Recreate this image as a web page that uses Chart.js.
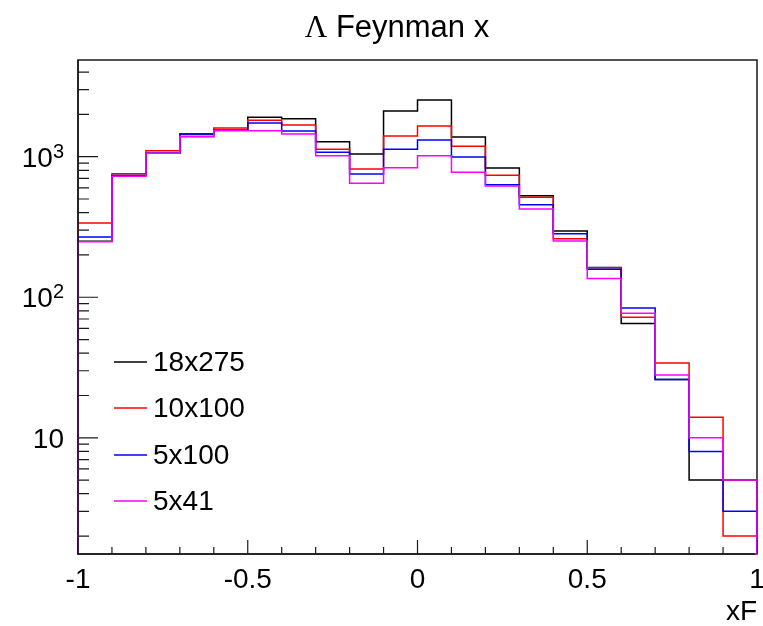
<!DOCTYPE html>
<html>
<head>
<meta charset="utf-8">
<script src="https://cdn.jsdelivr.net/npm/chart.js@4.4.0/dist/chart.umd.min.js"></script>
<style>
  body { margin: 0; background: #fff; }
</style>
</head>
<body>
<canvas id="xfChart" width="763" height="626"></canvas>
<script>
// 20 bins of width 0.1 in xF
const binEdges = [-1, -0.9, -0.8, -0.7, -0.6, -0.5, -0.4, -0.3, -0.2, -0.1, 0, 0.1, 0.2, 0.3, 0.4, 0.5, 0.6, 0.7, 0.8, 0.9, 1];

const counts18x275 = [250, 735, 1056, 1450, 1540, 1905, 1864, 1278, 1045, 2113, 2535, 1381, 831, 527, 296, 163, 65, 26, 5, 5];
const counts10x100 = [337, 755, 1104, 1388, 1600, 1815, 1681, 1128, 817, 1403, 1653, 1186, 737, 515, 261, 162, 72, 34, 14, 2];
const counts5x100  = [268, 735, 1056, 1450, 1540, 1737, 1524, 1075, 753, 1128, 1315, 995, 632, 455, 283, 158, 84, 26, 8, 3];
const counts5x41   = [248, 725, 1056, 1400, 1530, 1530, 1450, 1017, 646, 835, 1017, 774, 618, 424, 251, 136, 77, 28, 10, 5];

const seriesNames = ['18x275', '10x100', '5x100', '5x41'];
const seriesColors = ['#000000', '#ff0000', '#0000ff', '#ff00ff'];

const xMajorTicks = [-1, -0.5, 0, 0.5, 1];
const xTickLabels = ['-1', '-0.5', '0', '0.5', '1'];
const yMajorTicks = [10, 100, 1000];
const yTickExp = ['', '2', '3'];

const yMin = 1.49;
const yMax = 4875;
const font = '"Liberation Sans", Arial, sans-serif';

// step outline: starts and ends on the axis floor like a ROOT hist
function histPoints(values) {
    const pts = [{x: binEdges[0], y: 1}];
    for (let i = 0; i < values.length; i++) {
        pts.push({x: binEdges[i], y: values[i]});
    }
    pts.push({x: binEdges[binEdges.length - 1], y: 1});
    return pts;
}

function minorYTicks() {
    const ticks = [];
    for (let dec = 1; dec <= 1000; dec *= 10) {
        for (let m = 2; m <= 9; m++) {
            const v = m * dec;
            if (v > yMin && v < yMax) ticks.push(v);
        }
    }
    return ticks;
}

const allCounts = [counts18x275, counts10x100, counts5x100, counts5x41];
const datasets = allCounts.map((values, i) => ({
    label: seriesNames[i],
    data: histPoints(values),
    borderColor: seriesColors[i],
    borderWidth: 1.5,
    pointRadius: 0,
    fill: false,
    stepped: true,
    tension: 0,
    order: allCounts.length - i   // later series drawn on top
}));

const frame = {
    id: 'rootFrame',
    beforeDatasetsDraw(chart) {
        const c = chart.ctx;
        const a = chart.chartArea;
        const xs = chart.scales.x;
        const ys = chart.scales.y;
        c.save();
        c.strokeStyle = '#1a1a1a';
        c.lineWidth = 1.5;
        c.strokeRect(a.left, a.top, a.right - a.left, a.bottom - a.top);

        c.lineWidth = 1.2;
        c.beginPath();
        // x ticks, every 0.1 with long ones at 0.5
        for (let i = 0; i < binEdges.length; i++) {
            const px = xs.getPixelForValue(binEdges[i]);
            const len = xMajorTicks.includes(binEdges[i]) ? 14 : 7;
            c.moveTo(px, a.bottom);
            c.lineTo(px, a.bottom - len);
        }
        for (const v of minorYTicks()) {
            const py = ys.getPixelForValue(v);
            c.moveTo(a.left, py);
            c.lineTo(a.left + 11, py);
        }
        for (const v of yMajorTicks) {
            const py = ys.getPixelForValue(v);
            c.moveTo(a.left, py);
            c.lineTo(a.left + 20, py);
        }
        c.stroke();
        c.restore();
    },
    afterDraw(chart) {
        const c = chart.ctx;
        const a = chart.chartArea;
        const xs = chart.scales.x;
        const ys = chart.scales.y;
        c.save();

        // y axis line goes back over the hist edges
        c.strokeStyle = '#1a1a1a';
        c.lineWidth = 1.5;
        c.beginPath();
        c.moveTo(a.left, a.top);
        c.lineTo(a.left, a.bottom);
        c.lineTo(a.right - 2, a.bottom);
        c.stroke();

        c.fillStyle = '#000';

        // x tick labels
        c.font = '28px ' + font;
        c.textAlign = 'center';
        c.textBaseline = 'alphabetic';
        xMajorTicks.forEach((v, i) => {
            c.fillText(xTickLabels[i], xs.getPixelForValue(v), 588);
        });

        // axis title
        c.textAlign = 'right';
        c.fillText('xF', a.right, 620);

        // y tick labels with raised exponent
        yMajorTicks.forEach((v, i) => {
            const py = ys.getPixelForValue(v);
            const right = 64;
            c.textAlign = 'right';
            if (yTickExp[i]) {
                c.font = '20px ' + font;
                const ew = c.measureText(yTickExp[i]).width;
                c.fillText(yTickExp[i], right, py + 1);
                c.font = '28px ' + font;
                c.fillText('10', right - ew, py + 10);
            } else {
                c.font = '28px ' + font;
                c.fillText('10', right, py + 10);
            }
        });

        // title
        c.textAlign = 'left';
        c.font = '31px "Liberation Serif", serif';
        const lw = c.measureText('\u039B').width;
        c.font = '31px ' + font;
        const tw = c.measureText(' Feynman x').width;
        const tx = 397 - (lw + tw) / 2;
        c.font = '31px "Liberation Serif", serif';
        c.fillText('\u039B', tx, 37);
        c.font = '31px ' + font;
        c.fillText(' Feynman x', tx + lw, 37);

        // legend
        const rows = [362, 408, 455, 501];
        c.font = '28px ' + font;
        c.textBaseline = 'middle';
        seriesNames.forEach((name, i) => {
            c.strokeStyle = seriesColors[i];
            c.lineWidth = 1.5;
            c.beginPath();
            c.moveTo(114, rows[i]);
            c.lineTo(147, rows[i]);
            c.stroke();
            c.fillStyle = '#000';
            c.fillText(name, 153, rows[i] + 1);
        });
        c.restore();
    }
};

const ctx = document.getElementById('xfChart');
const xfChart = new Chart(ctx, {
    type: 'line',
    data: { datasets: datasets },
    options: {
        responsive: false,
        animation: false,
        layout: { padding: { left: 78, top: 60, right: 6, bottom: 72 } },
        plugins: {
            legend: { display: false },
            tooltip: { enabled: false },
            title: { display: false }
        },
        scales: {
            x: { type: 'linear', min: -1, max: 1, display: false },
            y: { type: 'logarithmic', min: yMin, max: yMax, display: false }
        }
    },
    plugins: [frame]
});
</script>
</body>
</html>
